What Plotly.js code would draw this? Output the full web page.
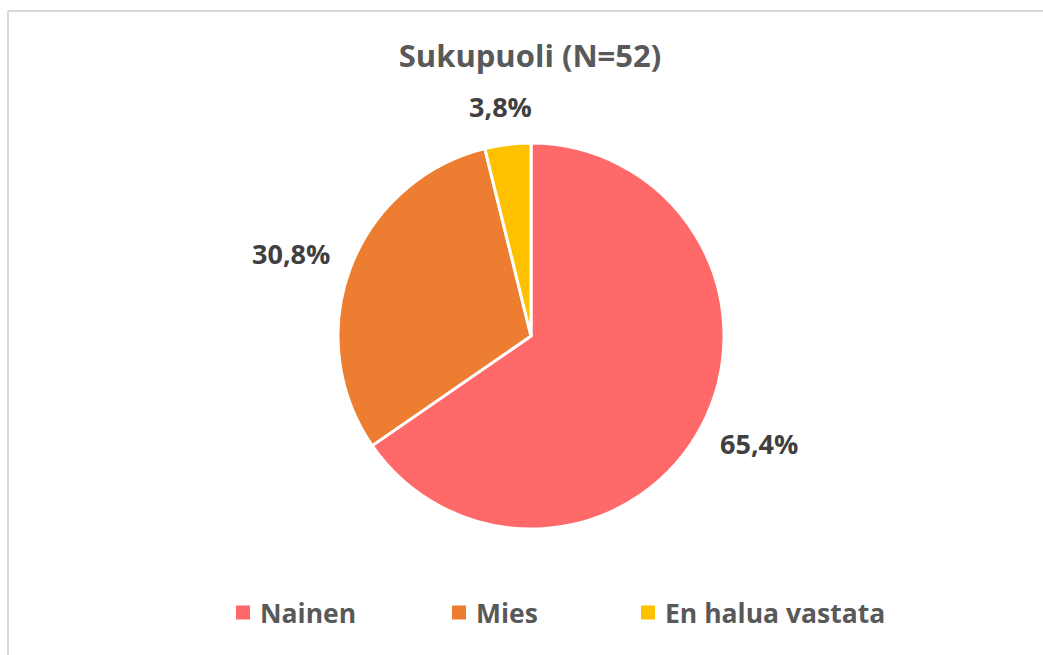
<!DOCTYPE html>
<html>
<head>
<meta charset="utf-8">
<script src="https://cdn.plot.ly/plotly-3.0.1.min.js"></script>
<style>
  html, body { margin: 0; padding: 0; background: #ffffff; }
  #chart { width: 1043px; height: 655px; }
</style>
</head>
<body>
<div id="chart"></div>
<script>
// Data
const categories = ["Nainen", "Mies", "En halua vastata"];
const counts = [34, 16, 2];
const colors = ["#FF6969", "#ED7D31", "#FFC000"];
const chartTitle = "Sukupuoli (N=52)";

// Layout constants (pixels)
const W = 1043, H = 655;
const cx = 531, cy = 336, R = 193;
const labelGap = 25;
const labelFont = { family: "Open Sans", size: 27, color: "#404040", weight: 700 };
const legendFont = { family: "Open Sans", size: 26.5, color: "#595959", weight: 700 };
const legendSquareX = [236, 452, 641];
const legendY = 612.5, legendSq = 14, legendTextGap = 8;

const ctx = document.createElement("canvas").getContext("2d");
function textWidth(t, f) {
  ctx.font = "bold " + f.size + "px '" + f.family + "'";
  return ctx.measureText(t).width;
}

const total = counts.reduce((a, b) => a + b, 0);
const pctText = counts.map(v => (100 * v / total).toFixed(1).replace(".", ",") + "%");

const annotations = [];
const shapes = [];

// Data labels outside along each slice bisector (clockwise from 12 o'clock)
let acc = 0;
counts.forEach((v, i) => {
  const mid = (acc + v / 2) / total * 2 * Math.PI;
  acc += v;
  const dx = Math.sin(mid), dy = -Math.cos(mid);
  const w = textWidth(pctText[i], labelFont), h = 27;
  const px = cx + (R + labelGap) * dx + (w / 2) * dx;
  const py = cy + (R + labelGap) * dy + (h / 2) * dy;
  annotations.push({
    xref: "paper", yref: "paper",
    x: px / W, y: 1 - py / H,
    xanchor: "center", yanchor: "middle",
    text: pctText[i], showarrow: false,
    font: labelFont
  });
});

// Custom legend
categories.forEach((c, i) => {
  const lx = legendSquareX[i];
  shapes.push({
    type: "rect", xref: "paper", yref: "paper",
    x0: lx / W, x1: (lx + legendSq) / W,
    y0: 1 - (legendY + legendSq / 2) / H, y1: 1 - (legendY - legendSq / 2) / H,
    fillcolor: colors[i], line: { width: 0 }
  });
  const tx = lx + legendSq + legendTextGap;
  annotations.push({
    xref: "paper", yref: "paper",
    x: tx / W, y: 1 - legendY / H,
    xanchor: "left", yanchor: "middle",
    text: c, showarrow: false, font: legendFont
  });
});

// Chart frame (left and top edges visible)
shapes.push(
  { type: "line", xref: "paper", yref: "paper", x0: 8 / W, x1: 8 / W, y0: 1 - 11 / H, y1: 0, line: { color: "#D9D9D9", width: 2 } },
  { type: "line", xref: "paper", yref: "paper", x0: 8 / W, x1: 1, y0: 1 - 11 / H, y1: 1 - 11 / H, line: { color: "#D9D9D9", width: 2 } }
);

const trace = {
  type: "pie",
  labels: categories,
  values: counts,
  sort: false,
  direction: "clockwise",
  rotation: 0,
  marker: { colors: colors, line: { color: "#ffffff", width: 3 } },
  textinfo: "none",
  hoverinfo: "label+percent",
  showlegend: false,
  domain: {
    x: [(cx - R) / W, (cx + R) / W],
    y: [(H - cy - R) / H, (H - cy + R) / H]
  }
};

const layout = {
  width: W, height: H,
  margin: { l: 0, r: 0, t: 0, b: 0 },
  paper_bgcolor: "#ffffff",
  title: {
    text: chartTitle,
    x: 530 / W, xanchor: "center",
    y: 1 - 56 / H, yanchor: "middle",
    font: { family: "Open Sans", size: 31, color: "#595959", weight: 700 }
  },
  showlegend: false,
  annotations: annotations,
  shapes: shapes
};

Plotly.newPlot("chart", [trace], layout, { displayModeBar: false, staticPlot: true });
</script>
</body>
</html>
